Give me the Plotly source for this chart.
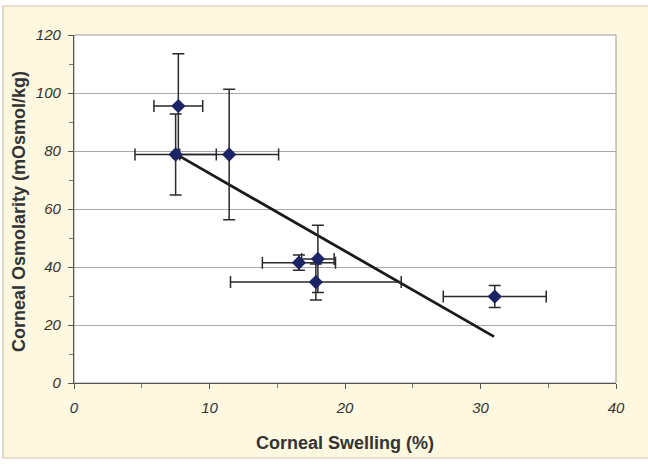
import plotly.graph_objects as go

# Data
swelling = [7.7, 7.5, 11.45, 16.6, 18.0, 17.85, 31.05]
osmolarity = [95.5, 78.8, 78.8, 41.5, 42.8, 34.8, 29.8]
swelling_err = [1.8, 3.0, 3.65, 2.7, 1.2, 6.3, 3.8]
osmolarity_err = [18.0, 14.0, 22.5, 2.6, 11.6, 6.2, 3.8]

trend_x = [7.5, 31.0]
trend_y = [79.0, 16.0]

x_ticks = [0, 10, 20, 30, 40]
y_ticks = [0, 20, 40, 60, 80, 100, 120]

x_title = "Corneal Swelling (%)"
y_title = "Corneal Osmolarity (mOsmol/kg)"

fig = go.Figure()

fig.add_trace(go.Scatter(
    x=trend_x, y=trend_y, mode="lines",
    line=dict(color="#1a1a1a", width=2.8),
    showlegend=False, hoverinfo="skip",
))

fig.add_trace(go.Scatter(
    x=swelling, y=osmolarity, mode="markers",
    marker=dict(symbol="diamond", size=11, color="#1c2466"),
    error_x=dict(type="data", array=swelling_err, color="#2a2a2a", thickness=1.5, width=6),
    error_y=dict(type="data", array=osmolarity_err, color="#2a2a2a", thickness=1.5, width=6),
    showlegend=False,
))

W, H = 648, 464
L, R, T, B = 74, 32, 35, 81
pw, ph = W - L - R, H - T - B

def px_to_paper_x(px):
    return (px - L) / pw

def px_to_paper_y(py):
    return (H - B - py) / ph

shapes = [
    dict(type="rect", xref="paper", yref="paper", layer="below",
         x0=px_to_paper_x(3), x1=px_to_paper_x(660),
         y0=px_to_paper_y(458), y1=px_to_paper_y(6),
         fillcolor="#fdf8df", line=dict(color="#c9c4a8", width=1.2)),
    dict(type="rect", xref="paper", yref="paper", layer="below",
         x0=0, x1=1, y0=0, y1=1,
         fillcolor="#ffffff", line=dict(color="#9a9a9a", width=1)),
]

tickfont = dict(family="Liberation Sans, Arial, sans-serif", size=15, color="#333333", style="italic")
titlefont = dict(family="Liberation Sans, Arial, sans-serif", size=18, color="#333333", weight="bold")

annotations = [
    dict(text=x_title, xref="paper", yref="paper",
         x=px_to_paper_x(345), y=px_to_paper_y(443),
         xanchor="center", yanchor="middle", showarrow=False, font=titlefont),
    dict(text=y_title, xref="paper", yref="paper",
         x=px_to_paper_x(19), y=px_to_paper_y(212),
         xanchor="center", yanchor="middle", textangle=-90, showarrow=False, font=titlefont),
]

fig.update_layout(
    width=W, height=H,
    margin=dict(l=L, r=R, t=T, b=B),
    paper_bgcolor="#ffffff",
    plot_bgcolor="rgba(0,0,0,0)",
    shapes=shapes,
    annotations=annotations,
    xaxis=dict(
        range=[0, 40], tickvals=x_ticks, ticktext=[str(v) for v in x_ticks],
        showgrid=False, zeroline=False,
        showline=True, linecolor="#555555", linewidth=1.3,
        ticks="outside", ticklen=5, tickcolor="#555555",
        minor=dict(dtick=5, ticks="outside", ticklen=4, tickcolor="#777777", showgrid=False),
        tickfont=tickfont, ticklabelstandoff=6,
    ),
    yaxis=dict(
        range=[0, 120], tickvals=y_ticks, ticktext=[str(v) for v in y_ticks],
        showgrid=True, gridcolor="#a8a8a8", gridwidth=1,
        zeroline=False,
        showline=True, linecolor="#555555", linewidth=1.3,
        ticks="outside", ticklen=5, tickcolor="#555555",
        minor=dict(dtick=10, ticks="outside", ticklen=4, tickcolor="#777777", showgrid=False),
        tickfont=tickfont, ticklabelstandoff=4,
    ),
)

fig.write_html(
    "out.html",
    config={"displayModeBar": False},
    post_script="document.body.style.margin='0';document.body.style.overflow='hidden';",
)
